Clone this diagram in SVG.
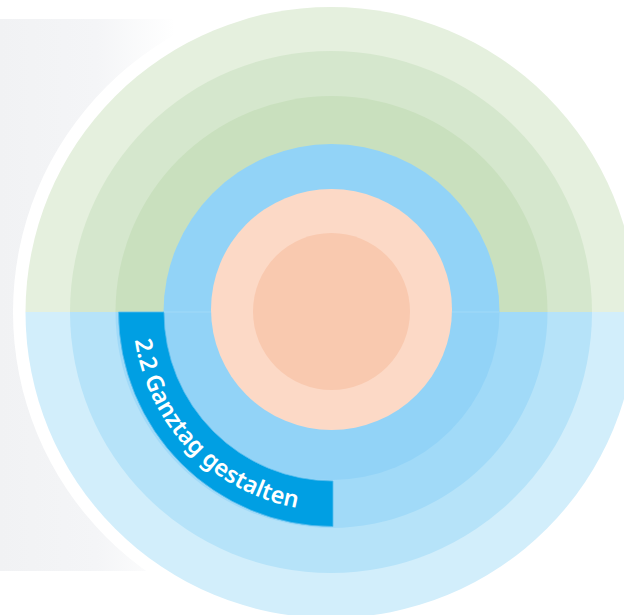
<svg xmlns="http://www.w3.org/2000/svg" width="624" height="615" viewBox="0 0 624 615">
<style>
.lbl{font-family:"Noto Sans","Open Sans",sans-serif;font-weight:600;font-size:23.500px;fill:#fff}
</style>
<defs>
<linearGradient id="fade" x1="0" y1="0" x2="1" y2="0"><stop offset="0" stop-color="#f1f2f4"/><stop offset="0.55" stop-color="#f4f5f7"/><stop offset="1" stop-color="#fff"/></linearGradient>
<clipPath id="top"><rect x="0" y="0" width="624" height="312"/></clipPath>
<clipPath id="bot"><rect x="0" y="312" width="624" height="303"/></clipPath>
<path id="arc" d="M133 312A199 199 0 0 0 332 511"/>
</defs>
<rect id="backdrop" x="0" y="19" width="175" height="552" fill="url(#fade)"/>
<circle id="halo" cx="331.500" cy="312" r="318.500" fill="#fff"/>
<g id="upper" clip-path="url(#top)">
<circle cx="331" cy="312.500" r="305.500" fill="#e5f0de"/>
<circle cx="331" cy="312" r="261" fill="#d5e7cd"/>
<circle cx="331.500" cy="312" r="216" fill="#c9e0be"/>
</g>
<g id="lower" clip-path="url(#bot)">
<circle cx="331" cy="312.500" r="305.500" fill="#d2eefb"/>
<circle cx="331" cy="312" r="261" fill="#b6e3f9"/>
<circle cx="331.500" cy="312" r="216" fill="#a1daf8"/>
</g>
<circle id="blue" cx="331.500" cy="312" r="168" fill="#92d3f7"/>
<g id="segment">
<path d="M118.500 312A214.500 214.500 0 0 0 333 526.500V481A169 169 0 0 1 164 312Z" fill="#009fe3" stroke="#59bdee" stroke-width="0.800"/>
<text class="lbl"><textPath href="#arc" startOffset="28">2.2 Ganztag gestalten</textPath></text>
</g>
<line x1="164" y1="312" x2="212" y2="312" stroke="#a1daf8" stroke-width="1"/>
<line x1="452" y1="312" x2="499" y2="312" stroke="#a1daf8" stroke-width="1"/>
<circle id="peach" cx="331.500" cy="309.500" r="120.500" fill="#fcd9c6"/>
<circle id="core" cx="331.500" cy="311.500" r="78.500" fill="#f9c9af"/>
</svg>
